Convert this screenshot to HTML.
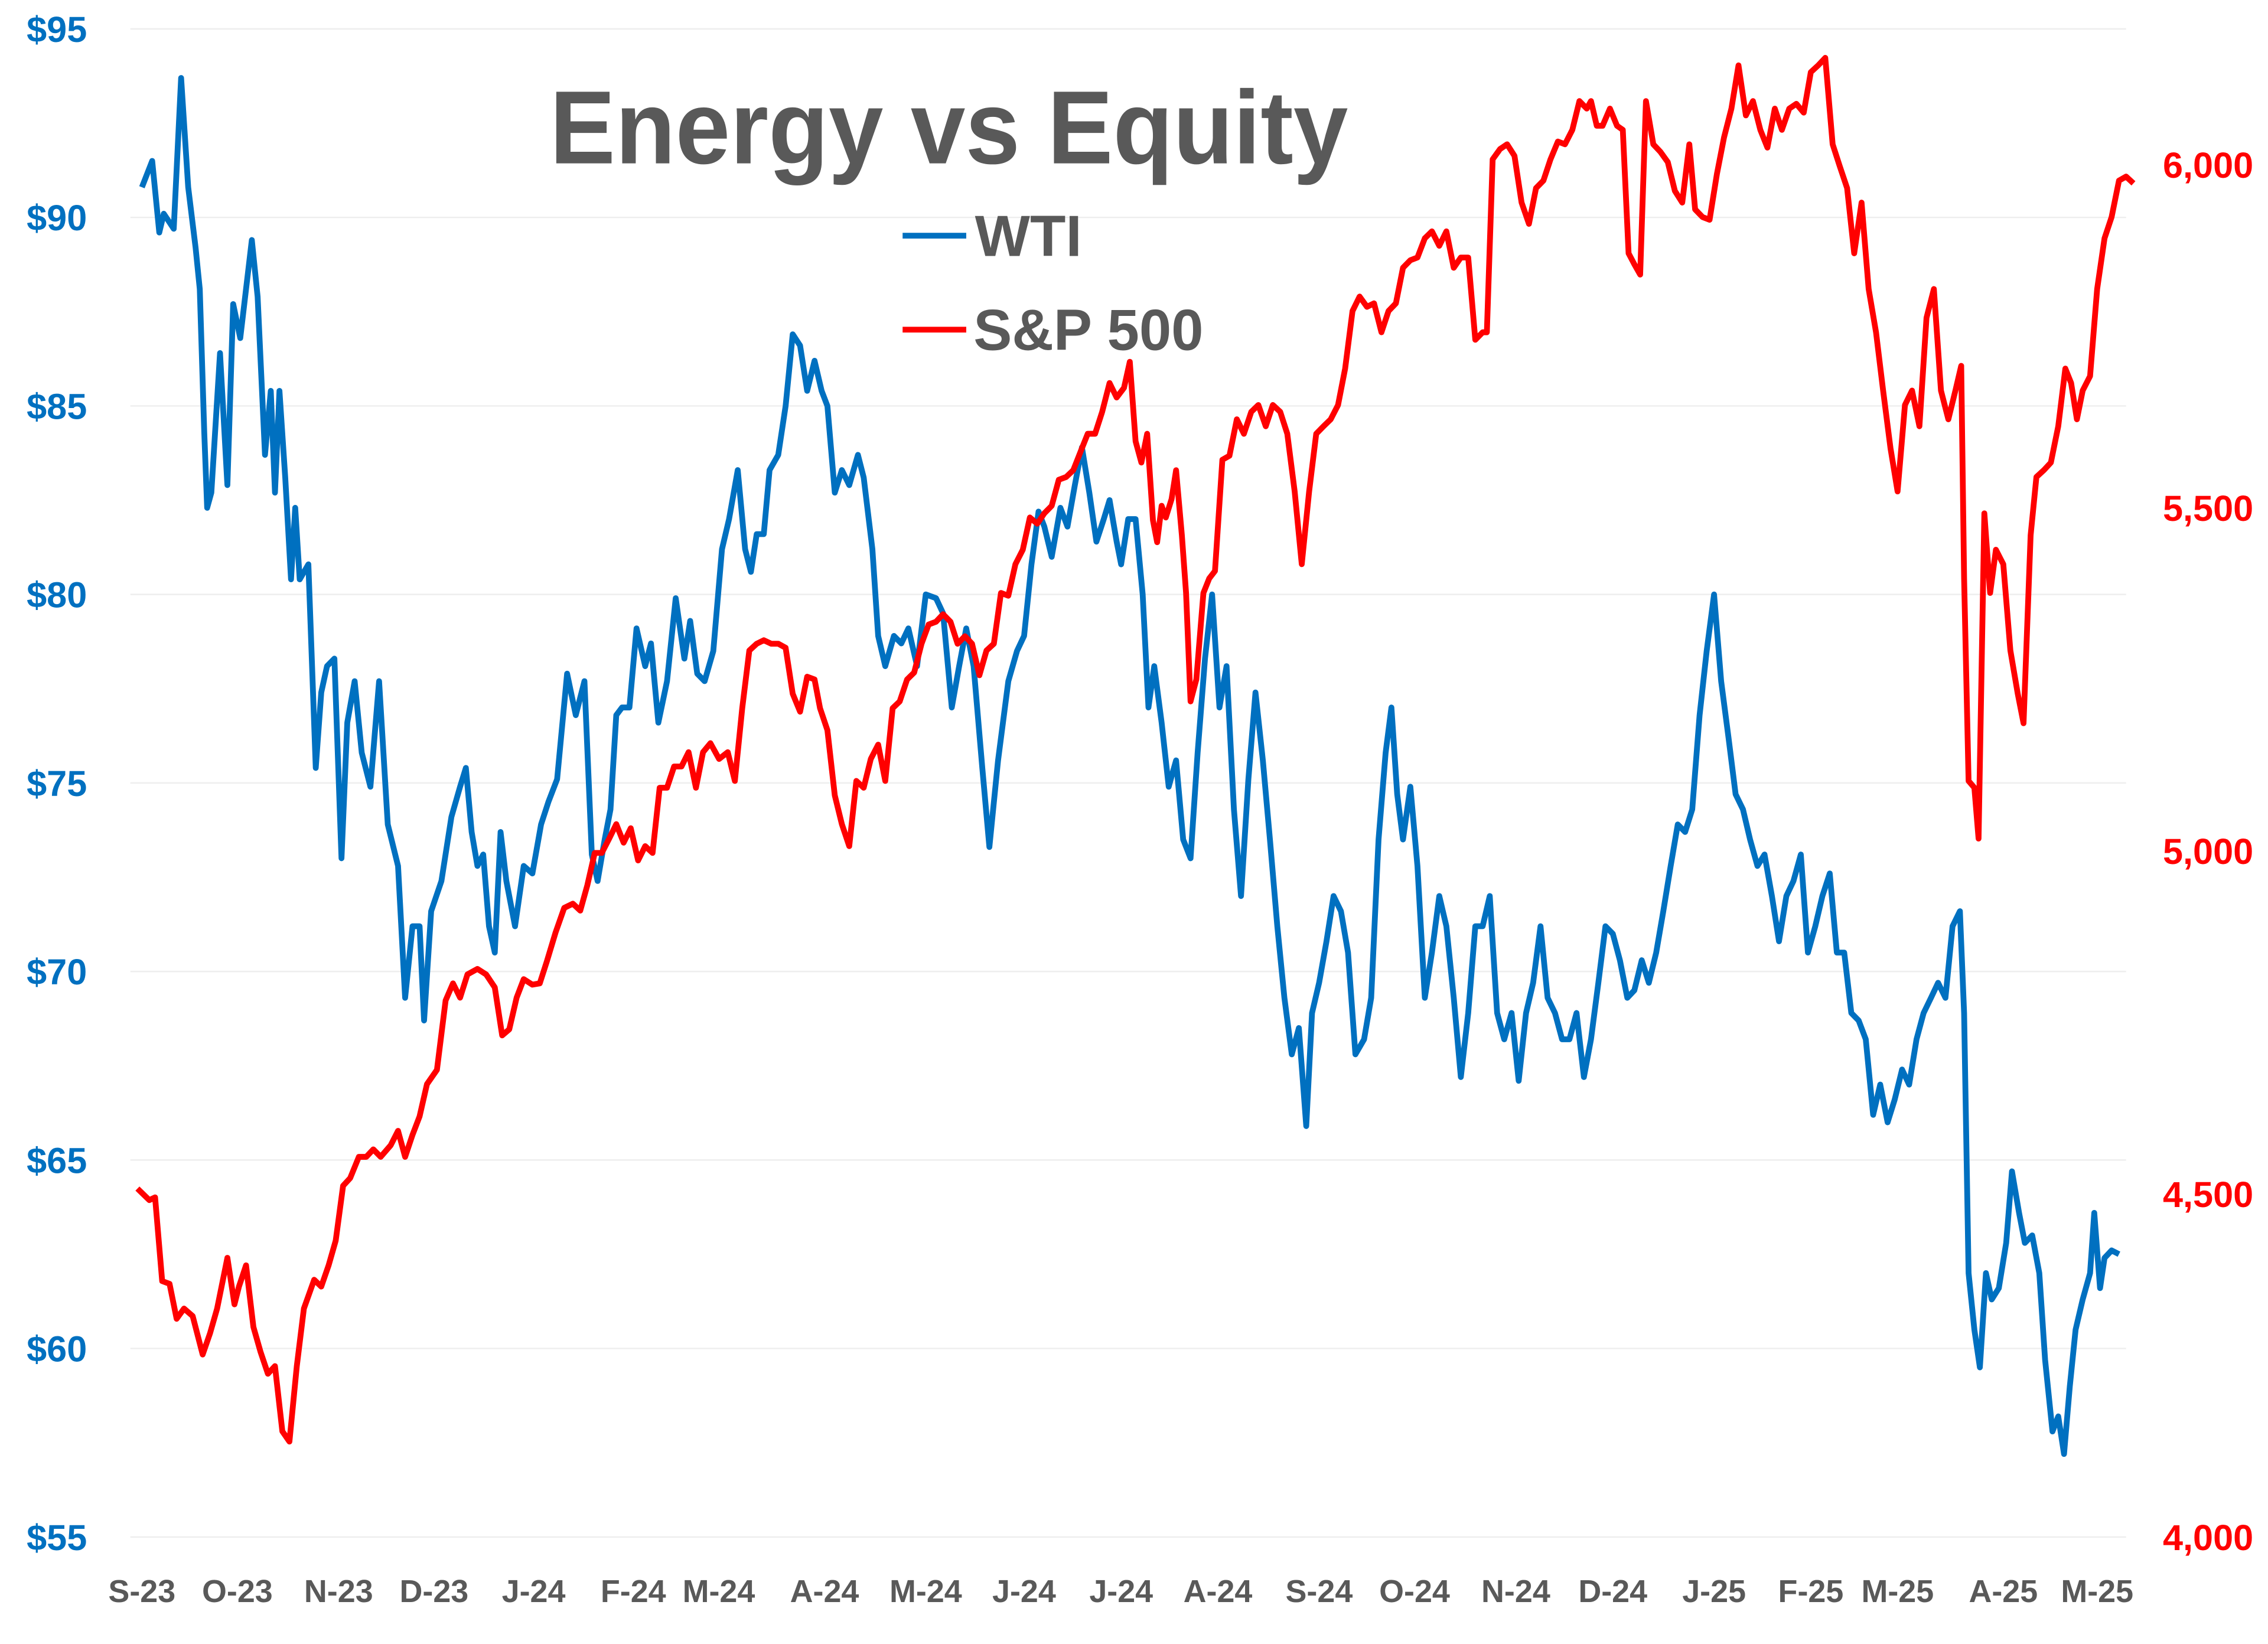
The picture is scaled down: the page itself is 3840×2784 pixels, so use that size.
<!DOCTYPE html>
<html><head><meta charset="utf-8">
<style>
html,body{margin:0;padding:0;background:#fff;}
svg{display:block;}
text{font-family:"Liberation Sans",Arial,sans-serif;font-weight:bold;}
</style></head>
<body>
<svg id="chart" width="3840" height="2784" viewBox="0 0 1568 1137" xmlns="http://www.w3.org/2000/svg">
<rect width="1568" height="1137" fill="#fff"/>
<g id="grid"></g>
<g id="leftAxis"></g>
<g id="rightAxis"></g>
<g id="xAxis"></g>
<g id="series"></g>
<text x="380" y="113" font-size="72" fill="#595959" textLength="552" lengthAdjust="spacingAndGlyphs">Energy vs Equity</text>
<g>
<g>
<line x1="624" y1="163" x2="668" y2="163" stroke="#0070C0" stroke-width="4"/>
<text x="674" y="177" font-size="40" fill="#595959" textLength="74" lengthAdjust="spacingAndGlyphs">WTI</text></g>
<g>
<line x1="624" y1="228" x2="668" y2="228" stroke="#FF0000" stroke-width="4"/>
<text x="673" y="242" font-size="40" fill="#595959" textLength="159" lengthAdjust="spacingAndGlyphs">S&amp;P 500</text></g>
</g>
</svg>
<script>
const monthLabels=["S-23","O-23","N-23","D-23","J-24","F-24","M-24","A-24","M-24","J-24","J-24","A-24","S-24","O-24","N-24","D-24","J-25","F-25","M-25","A-25","M-25"];
const monthDays=[0,29.7,61.2,90.9,121.9,152.9,179.5,212.4,243.9,274.5,304.7,334.8,366.3,396,427.5,457.7,489.2,519.3,546.3,579.2,608.4];
const leftTicks=[55,60,65,70,75,80,85,90,95];
const rightTicks=[4000,4500,5000,5500,6000];
const wtiDays=[0,3.2,5.4,6.8,9.9,12.2,14.4,16.7,18,19.4,20.3,21.6,24.3,26.6,28.4,30.6,32.4,34.2,36,38.3,40.1,41.4,42.8,44.6,46.4,47.7,49.1,51.8,54.1,55.8,57.6,59.9,62.1,63.9,66.2,68.4,71.1,73.8,76.5,79.7,81.9,84.2,86.4,87.8,90,93.2,96.3,99,100.8,102.6,104.4,106.2,108,109.8,111.6,113.4,116.1,118.8,121.5,124.2,126.5,129.2,132.3,135,137.7,140,141.8,144,145.8,147.6,149.4,151.7,153.9,156.6,158.4,160.7,163.4,166.1,168.8,170.6,172.8,175.1,177.8,180.5,182.7,185.4,187.7,189.5,191.3,193.5,195.3,198,200.3,202.5,204.8,207,209.3,211.5,213.3,215.6,217.8,220.1,222.8,224.6,227.3,229.1,231.3,234,236.3,238.5,241.2,243.9,247.1,249.3,252,254.3,256.5,258.8,261.5,263.7,266.4,269.6,272.3,274.5,276.8,279,280.8,283.1,285.8,288,290.3,292.5,294.8,297,299.3,301.1,303.3,304.7,306.9,309.2,311.4,313.2,315,317.3,319.5,321.8,324,326.3,328.5,330.8,333,335.3,337.5,339.8,342,344.3,346.5,348.8,351,353.3,355.5,357.8,360,362.3,364.1,366.3,368.6,370.8,373.1,375.3,377.6,380.3,382.5,384.8,387,388.8,390.6,392.4,394.7,396.9,399.2,401.4,403.7,405.9,408.2,410.4,412.7,414.9,417.2,419.4,421.7,423.9,426.2,428.4,430.7,432.9,435.2,437.4,439.7,441.9,444.2,446.4,448.7,450.9,453.2,455.4,457.7,459.9,462.2,464.4,466.7,468.9,471.2,473.4,475.7,477.9,480.2,482.4,484.7,486.9,489.2,491.4,493.7,495.9,498.2,500.4,502.7,504.9,507.2,509.4,511.7,513.9,516.2,518.4,520.7,522.9,525.2,527.4,529.7,531.9,534.2,536.4,538.7,540.9,543.2,545.4,547.7,549.9,552.2,554.4,556.7,558.9,561.2,563.4,565.7,567,568.4,570.2,571.9,573.8,575.6,577.8,580.1,581.9,584.1,585.9,588.2,590.4,592.2,594.5,596.3,598.1,599.9,601.7,603.9,606.2,607.5,609.3,610.7,612.9,615.2];
const wtiValues=[90.8,91.5,89.6,90.1,89.7,93.7,90.8,89.2,88.1,84.3,82.3,82.7,86.4,82.9,87.7,86.8,88.1,89.4,87.9,83.7,85.4,82.7,85.4,83.1,80.4,82.3,80.4,80.8,75.4,77.4,78.1,78.3,73.0,76.6,77.7,75.8,74.9,77.7,73.9,72.8,69.3,71.2,71.2,68.7,71.6,72.4,74.1,74.9,75.4,73.7,72.8,73.1,71.2,70.5,73.7,72.4,71.2,72.8,72.6,73.9,74.5,75.1,77.9,76.8,77.7,73.1,72.4,73.5,74.3,76.8,77.0,77.0,79.1,78.1,78.7,76.6,77.7,79.9,78.3,79.3,77.9,77.7,78.5,81.2,82.0,83.3,81.2,80.6,81.6,81.6,83.3,83.7,85.0,86.9,86.6,85.4,86.2,85.4,85.0,82.7,83.3,82.9,83.7,83.1,81.2,78.9,78.1,78.9,78.7,79.1,78.1,80.0,79.9,79.5,77.0,78.1,79.1,78.1,75.4,73.3,75.6,77.7,78.5,78.9,80.8,82.2,81.8,81.0,82.3,81.8,82.9,83.9,82.7,81.4,82.0,82.5,81.4,80.8,82.0,82.0,80.0,77.0,78.1,76.6,74.9,75.6,73.5,73.0,75.8,78.3,80.0,77.0,78.1,74.3,72.0,75.1,77.4,75.6,73.5,71.2,69.3,67.8,68.5,65.9,68.9,69.7,70.8,72.0,71.6,70.5,67.8,68.2,69.3,73.5,75.8,77.0,74.7,73.5,74.9,72.8,69.3,70.5,72.0,71.2,69.3,67.2,68.9,71.2,71.2,72.0,68.9,68.2,68.9,67.1,68.9,69.7,71.2,69.3,68.9,68.2,68.2,68.9,67.2,68.2,69.7,71.2,71.0,70.3,69.3,69.5,70.3,69.7,70.5,71.6,72.8,73.9,73.7,74.3,76.8,78.5,80.0,77.7,76.2,74.7,74.3,73.5,72.8,73.1,72.0,70.8,72.0,72.4,73.1,70.5,71.2,72.0,72.6,70.5,70.5,68.9,68.7,68.2,66.2,67.0,66.0,66.6,67.4,67.0,68.2,68.9,69.3,69.7,69.3,71.2,71.6,68.9,62.0,60.5,59.5,62.0,61.3,61.6,62.8,64.7,63.6,62.8,63.0,62.0,59.7,57.8,58.2,57.2,59.0,60.5,61.3,62.0,63.6,61.6,62.4,62.6,62.5];
const spxDays=[-1.4,2.3,4.1,6.3,8.6,10.8,13.1,15.8,18.9,21.2,23.4,26.6,28.8,30.2,32.4,34.7,36.9,39.2,41.4,43.7,45.9,48.2,50.4,53.6,55.8,58.1,60.3,62.6,64.8,67.5,69.8,72,74.3,77.4,79.7,81.9,84.2,86.4,88.7,91.8,94.5,96.8,99,101.3,104.4,107.1,109.8,112.1,114.3,116.6,118.8,121.5,123.8,126,128.7,131.4,134.1,136.4,138.6,140.9,143.1,145.4,147.6,149.9,152.1,154.4,156.6,158.9,161.1,163.4,165.6,167.9,170.1,172.4,174.6,176.9,179.6,182.3,184.5,186.8,189,191.3,193.5,195.8,198,200.3,202.5,204.8,207,209.3,211,213.3,215.6,217.8,220.1,222.3,224.6,226.8,229.1,231.3,233.6,235.8,238.1,240.3,242.6,244.8,247.1,249.3,251.6,253.8,256.1,258.3,260.6,262.8,265.1,267.3,269.6,271.8,274.1,276.3,278.6,280.8,283.1,285.3,287.6,289.8,292.5,294.3,296.6,298.8,301.1,303.3,305.6,307.4,309.2,311,312.8,314.6,315.9,317.3,318.6,320.4,321.8,323.6,324.9,326.3,328.1,330.3,332.1,333.9,336.2,338.4,340.7,342.9,345.2,347.4,349.7,351.9,354.2,356.4,358.7,360.9,363.2,365.4,367.7,369.9,372.2,374.4,376.7,378.9,381.2,383.4,385.7,387.9,390.2,392.4,394.7,396.9,399.2,401.4,403.7,405.9,408.2,410.4,412.7,414.9,417.2,418.5,420.3,422.6,424.8,427.1,429.3,431.6,433.8,436.1,438.3,440.6,442.8,445.1,447.3,449.6,450.9,452.7,454.5,456.8,459,460.8,462.6,464.4,466.2,468,470.3,472.5,474.8,477,479.3,481.5,483.3,485.6,487.8,490.1,492.3,494.6,496.8,499.1,501.3,503.6,505.8,508.1,510.3,512.6,514.8,517.1,519.3,521.6,523.8,526.1,528.3,530.6,532.8,535.1,537.3,539.6,541.8,544.1,546.3,548.6,550.8,553.1,555.3,557.6,559.8,562.1,564.3,566.1,567,568.4,570.2,571.5,573.3,575.1,576.9,579.2,581.4,583.7,585.5,587.7,589.5,591.8,594,596.3,598.5,600.3,602.1,603.9,606.2,608.4,610.7,612.9,615.2,617.4,619.7];
const spxValues=[4508,4491,4495,4373,4369,4318,4333,4322,4266,4297,4333,4407,4339,4365,4396,4306,4270,4238,4249,4154,4139,4249,4333,4375,4365,4396,4432,4512,4523,4554,4554,4565,4554,4571,4592,4554,4586,4613,4660,4681,4782,4807,4786,4820,4828,4820,4801,4731,4740,4786,4813,4805,4807,4839,4881,4917,4923,4913,4950,4997,4997,5018,5039,5012,5033,4986,5007,4997,5092,5092,5123,5123,5144,5092,5144,5157,5134,5144,5102,5208,5292,5302,5307,5302,5302,5296,5229,5203,5254,5250,5208,5176,5081,5039,5007,5102,5092,5134,5155,5102,5208,5218,5250,5260,5302,5330,5334,5345,5334,5302,5313,5302,5256,5292,5302,5376,5372,5418,5439,5486,5477,5492,5503,5541,5545,5555,5587,5608,5608,5640,5682,5661,5675,5713,5597,5566,5608,5482,5450,5503,5486,5513,5555,5460,5376,5218,5250,5376,5397,5408,5570,5576,5629,5608,5640,5650,5619,5650,5640,5608,5524,5418,5524,5608,5619,5629,5650,5703,5787,5808,5793,5798,5756,5787,5798,5850,5861,5865,5893,5903,5882,5903,5850,5865,5865,5745,5756,5756,6008,6023,6030,6013,5945,5914,5966,5977,6008,6034,6030,6051,6093,6082,6093,6057,6057,6082,6057,6051,5871,5855,5840,6093,6030,6019,6004,5962,5945,6030,5935,5924,5920,5987,6040,6082,6145,6072,6093,6051,6025,6082,6051,6082,6089,6076,6135,6145,6156,6030,5998,5966,5871,5945,5819,5756,5671,5587,5524,5650,5671,5619,5777,5819,5671,5629,5671,5707,5397,5102,5092,5018,5492,5376,5439,5418,5292,5229,5186,5460,5545,5555,5566,5619,5703,5682,5629,5671,5692,5819,5893,5924,5977,5983,5973];

const NS="http://www.w3.org/2000/svg";
function xScale(d){return 98+d/0.45;}
function yLeft(v){return 20+(95-v)*(1043/40);}
function yRight(v){return 114+(6000-v)*(949/2000);}
function mk(tag,attrs,parent){const e=document.createElementNS(NS,tag);for(const k in attrs)e.setAttribute(k,attrs[k]);parent.appendChild(e);return e;}

const grid=document.getElementById('grid'),la=document.getElementById('leftAxis'),ra=document.getElementById('rightAxis'),xa=document.getElementById('xAxis'),ser=document.getElementById('series');
leftTicks.forEach(v=>{
  const y=yLeft(v);
  const g=mk('line',{x1:90,x2:1470,y1:y,y2:y,stroke:'#eeeeee','stroke-width':1},grid);
  
  
  const t=mk('text',{x:60,y:y+9,'text-anchor':'end','font-size':25,fill:'#0070C0'},la);
  t.textContent='$'+v;
  
  
});
rightTicks.forEach(v=>{
  const t=mk('text',{x:1558,y:yRight(v)+9,'text-anchor':'end','font-size':25,fill:'#FF0000'},ra);
  t.textContent=v.toLocaleString('en-US');
  
  
});
monthLabels.forEach((m,i)=>{
  const t=mk('text',{x:xScale(monthDays[i]),y:1108,'text-anchor':'middle','font-size':22,fill:'#595959'},xa);
  t.textContent=m;
  
  
});
function pathFor(ds,vs,yf){return ds.map((d,i)=>(i?'L':'M')+xScale(d).toFixed(1)+' '+yf(vs[i]).toFixed(1)).join(' ');}
const pw=mk('path',{d:pathFor(wtiDays,wtiValues,yLeft),fill:'none',stroke:'#0070C0','stroke-width':4,'stroke-linejoin':'round'},ser);


const ps=mk('path',{d:pathFor(spxDays,spxValues,yRight),fill:'none',stroke:'#FF0000','stroke-width':4,'stroke-linejoin':'round'},ser);


</script>
</body></html>
